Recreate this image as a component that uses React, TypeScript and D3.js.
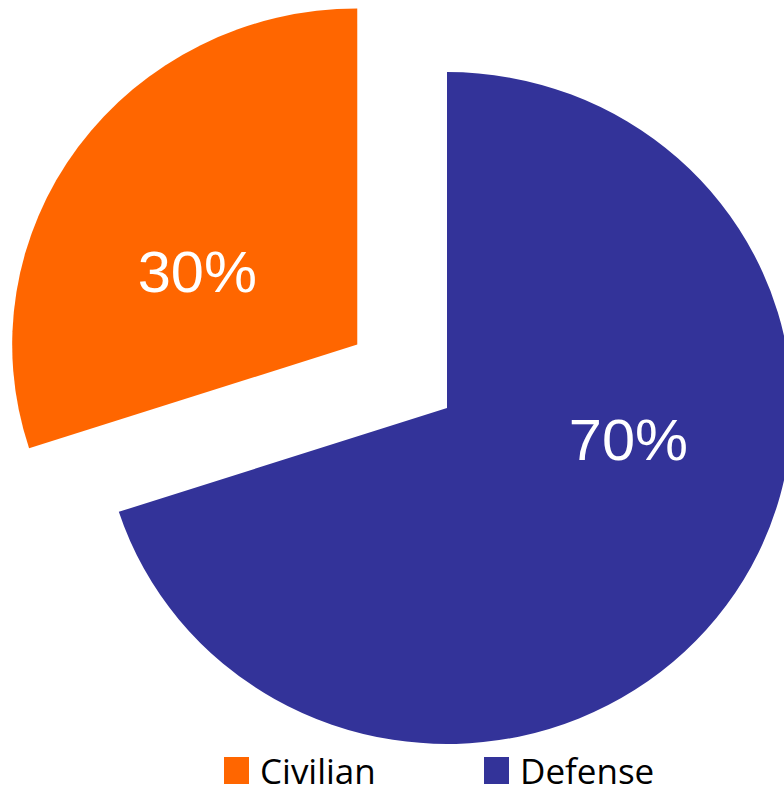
import React from "react";
import * as d3 from "d3";

const categories = ["Defense", "Civilian"];
const values = [70, 30];
const labels = ["70%", "30%"];
const colors = ["#333399", "#FF6600"];
const legendOrder = ["Civilian", "Defense"];

const W = 784;
const H = 795;
const cx = 447;
const cy = 408;
const R = 336;
const SX = 1.027;
const EXPLODE = [0, 108];
// label offsets (relative to slice's own center, in unstretched frame)
const LABEL_POS: [number, number][] = [
  [176.7, 52],
  [-155.8, -52.5],
];

export default function App() {
  const pie = d3.pie<number>().sort(null).startAngle(0).endAngle(2 * Math.PI);
  const arcs = pie(values);
  const arc = d3.arc<d3.PieArcDatum<number>>().innerRadius(0).outerRadius(R);
  const legendX = [224, 484];
  const legendY = 757;

  return (
    <svg
      width={W}
      height={H}
      style={{ position: "absolute", left: 0, top: 0 }}
    >
      <rect width={W} height={H} fill="#fff" />
      <g transform={`translate(${cx},${cy}) scale(${SX},1)`}>
        {arcs.map((a, i) => {
          const mid = (a.startAngle + a.endAngle) / 2;
          const dx = EXPLODE[i] * Math.sin(mid);
          const dy = -EXPLODE[i] * Math.cos(mid);
          return (
            <g key={categories[i]} transform={`translate(${dx},${dy})`}>
              <path d={arc(a) || ""} fill={colors[i]} />
              <text
                x={LABEL_POS[i][0]}
                y={LABEL_POS[i][1]}
                textAnchor="middle"
                fill="#fff"
                fontFamily="'Liberation Sans', Arial, sans-serif"
                fontSize={58}
              >
                {labels[i]}
              </text>
            </g>
          );
        })}
      </g>
      {legendOrder.map((name, i) => {
        const ci = categories.indexOf(name);
        return (
          <g key={name} transform={`translate(${legendX[i]},${legendY})`}>
            <rect width={25} height={27} fill={colors[ci]} />
            <text
              x={36}
              y={27}
              fontFamily="'Open Sans', sans-serif"
              fontSize={35}
              fill="#000"
            >
              {name}
            </text>
          </g>
        );
      })}
    </svg>
  );
}
